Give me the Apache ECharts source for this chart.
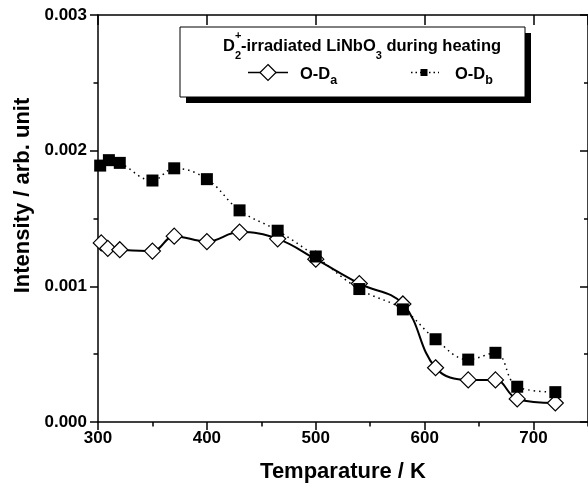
<!DOCTYPE html>
<html>
<head>
<meta charset="utf-8">
<script src="https://cdn.jsdelivr.net/npm/echarts@6/dist/echarts.min.js"></script>
<style>html,body{margin:0;padding:0;background:#fff}#c{width:588px;height:488px}</style>
</head>
<body>
<div id="c"></div>
<script>
// ---- data ----
const tempA = [303, 309, 320, 350, 370, 400, 430, 465, 500, 540, 580, 610, 640, 665, 685, 720];
const odA   = [0.00132, 0.00128, 0.00127, 0.00126, 0.00137, 0.00133, 0.00140, 0.00135, 0.00120, 0.00102, 0.00087, 0.00040, 0.00031, 0.00031, 0.00017, 0.00014];
const tempB = [302, 310, 320, 350, 370, 400, 430, 465, 500, 540, 580, 610, 640, 665, 685, 720];
const odB   = [0.00189, 0.00193, 0.00191, 0.00178, 0.00187, 0.00179, 0.00156, 0.00141, 0.00122, 0.00098, 0.00083, 0.00061, 0.00046, 0.00051, 0.00026, 0.00022];
const xTicks = [300, 400, 500, 600, 700];
const yTicks = [0.000, 0.001, 0.002, 0.003];

const FONT = 'Liberation Sans, Arial, sans-serif';
const chart = echarts.init(document.getElementById('c'), null, {renderer: 'canvas'});

// text measuring for composed sub/superscript labels
const mctx = document.createElement('canvas').getContext('2d');
function tw(t, fs) { mctx.font = 'bold ' + fs + 'px ' + FONT; return mctx.measureText(t).width; }
// pieces: {t, fs, y (middle), overlay:boolean -> zero advance}
function compose(x0, pieces, align) {
  let total = 0;
  pieces.forEach(p => { if (!p.overlay) total += tw(p.t, p.fs); });
  let x = align === 'center' ? x0 - total / 2 : x0;
  const els = [];
  pieces.forEach(p => {
    els.push({type: 'text', z: 102, style: {text: p.t, x: x, y: p.y, font: 'bold ' + p.fs + 'px ' + FONT,
      fill: '#000', textAlign: 'left', textVerticalAlign: 'middle', verticalAlign: 'middle'}});
    if (!p.overlay) x += tw(p.t, p.fs);
  });
  return els;
}

const titleEls = compose(362, [
  {t: 'D', fs: 16.5, y: 46},
  {t: '+', fs: 11, y: 36, overlay: true},
  {t: '2', fs: 11, y: 55.5},
  {t: '-irradiated LiNbO', fs: 16.5, y: 46},
  {t: '3', fs: 11, y: 55.5},
  {t: ' during heating', fs: 16.5, y: 46}
], 'center');
const itemA = compose(300, [{t: 'O-D', fs: 16.5, y: 74.5}, {t: 'a', fs: 12.5, y: 81}], 'left');
const itemB = compose(455, [{t: 'O-D', fs: 16.5, y: 74.5}, {t: 'b', fs: 12.5, y: 81}], 'left');

const legendGraphic = [
  {type: 'rect', z: 100, shape: {x: 186, y: 33, width: 345, height: 70}, style: {fill: '#000'}},
  {type: 'rect', z: 101, shape: {x: 180, y: 27, width: 345, height: 70}, style: {fill: '#fff', stroke: '#000', lineWidth: 1}},
  {type: 'line', z: 102, shape: {x1: 248, y1: 72.5, x2: 288, y2: 72.5}, style: {stroke: '#000', lineWidth: 1.5}},
  {type: 'polygon', z: 103, shape: {points: [[268, 64.5], [276, 72.5], [268, 80.5], [260, 72.5]]}, style: {fill: '#fff', stroke: '#000', lineWidth: 1.2}},
  {type: 'line', z: 102, shape: {x1: 411, y1: 72.5, x2: 439, y2: 72.5}, style: {stroke: '#000', lineWidth: 1.5, lineDash: [1.5, 3]}},
  {type: 'rect', z: 103, shape: {x: 420.5, y: 69, width: 7, height: 7}, style: {fill: '#000'}}
].concat(titleEls, itemA, itemB);

const axisLine = {show: true, onZero: false, lineStyle: {color: '#000', width: 1.5}};
const labelStyle = {color: '#000', fontFamily: FONT, fontWeight: 'bold', fontSize: 17};

const option = {
  animation: false,
  backgroundColor: '#fff',
  grid: {left: 98, top: 15, width: 491.6, height: 410, containLabel: false},
  xAxis: [
    {type: 'value', position: 'bottom', min: 300, max: 750, interval: 100,
     axisLine: axisLine, splitLine: {show: false},
     axisTick: {show: true, inside: false, length: 8, lineStyle: {color: '#000', width: 1.5}},
     axisLabel: Object.assign({margin: 8, showMaxLabel: false,
       formatter: v => (xTicks.indexOf(v) >= 0 ? String(v) : '')}, labelStyle),
     name: 'Temparature / K', nameLocation: 'middle', nameGap: 39,
     nameTextStyle: {color: '#000', fontFamily: FONT, fontWeight: 'bold', fontSize: 22}},
    {type: 'value', position: 'bottom', min: 300, max: 750, interval: 50,
     axisLine: {show: false}, splitLine: {show: false}, axisLabel: {show: false},
     axisTick: {show: true, inside: false, length: 4.5, lineStyle: {color: '#000', width: 1.5}}},
    {type: 'value', position: 'top', min: 300, max: 750, interval: 100,
     axisLine: axisLine, splitLine: {show: false}, axisLabel: {show: false},
     axisTick: {show: true, inside: true, length: 10, lineStyle: {color: '#000', width: 1.5}}}
  ],
  yAxis: [
    {type: 'value', position: 'left', min: 0, max: 0.003, interval: 0.001,
     axisLine: axisLine, splitLine: {show: false},
     axisTick: {show: true, inside: false, length: 8, lineStyle: {color: '#000', width: 1.5}},
     minorTick: {show: true, splitNumber: 2, length: 4.5, lineStyle: {color: '#000', width: 1.5}},
     minorSplitLine: {show: false},
     axisLabel: Object.assign({margin: 11,
       formatter: v => { const t = yTicks.find(y => Math.abs(y - v) < 1e-9); return t === undefined ? '' : t.toFixed(3); }}, labelStyle),
     name: 'Intensity / arb. unit', nameLocation: 'middle', nameGap: 60, nameRotate: 90,
     nameTextStyle: {color: '#000', fontFamily: FONT, fontWeight: 'bold', fontSize: 22, padding: [0, 0, 0, 46]}},
    {type: 'value', position: 'right', min: 0, max: 0.003, interval: 0.001,
     axisLine: axisLine, splitLine: {show: false}, axisLabel: {show: false},
     axisTick: {show: true, inside: true, length: 8, lineStyle: {color: '#000', width: 1.5}},
     minorTick: {show: true, splitNumber: 2, length: 4, lineStyle: {color: '#000', width: 1.5}},
     minorSplitLine: {show: false}}
  ],
  series: [
    {name: 'O-Da', type: 'line', xAxisIndex: 0, yAxisIndex: 0,
     data: tempA.map((t, i) => [t, odA[i]]), smooth: 0.4,
     symbol: 'diamond', symbolSize: 16, showAllSymbol: true,
     itemStyle: {color: '#fff', borderColor: '#000', borderWidth: 1.2},
     lineStyle: {color: '#000', width: 2}, z: 2},
    {name: 'O-Db', type: 'line', xAxisIndex: 0, yAxisIndex: 0,
     data: tempB.map((t, i) => [t, odB[i]]), smooth: 0.4,
     symbol: 'rect', symbolSize: 12, showAllSymbol: true,
     itemStyle: {color: '#000', borderColor: '#000', borderWidth: 0},
     lineStyle: {color: '#000', width: 1.5, type: [1.5, 4]}, z: 3}
  ],
  graphic: legendGraphic
};
chart.setOption(option);
</script>
</body>
</html>
